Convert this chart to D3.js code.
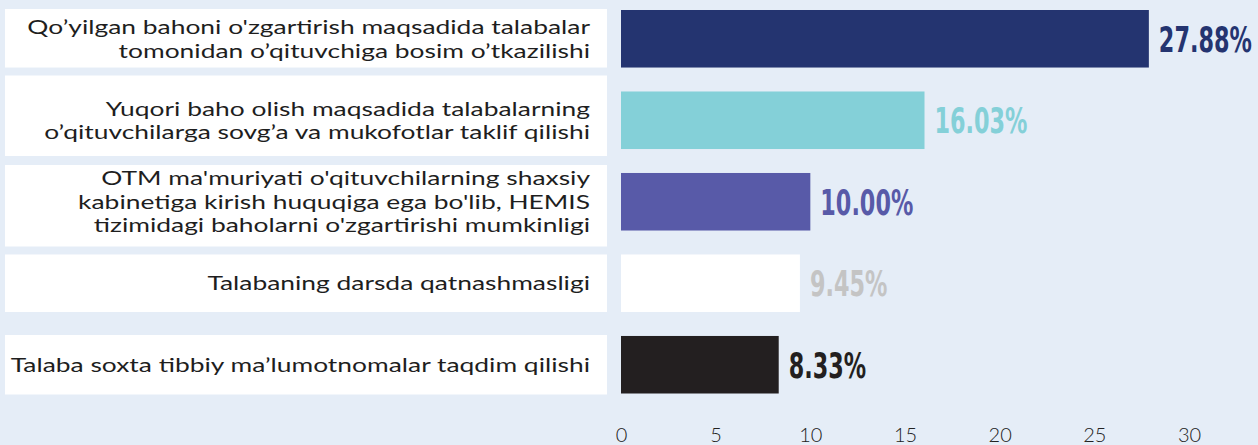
<!DOCTYPE html>
<html><head><meta charset="utf-8">
<script src="https://cdn.jsdelivr.net/npm/d3@7"></script>
<style>
html,body{margin:0;padding:0;background:#e5edf7;}
svg{display:block;}
</style></head>
<body>
<svg id="chart" width="1258" height="445"></svg>
<script>
// ---- data ----
const categories = [
  ["Qo\u2019yilgan bahoni o'zgartirish maqsadida talabalar", "tomonidan o\u2019qituvchiga bosim o\u2019tkazilishi"],
  ["Yuqori baho olish maqsadida talabalarning", "o\u2019qituvchilarga sovg\u2019a va mukofotlar taklif qilishi"],
  ["OTM ma'muriyati o'qituvchilarning shaxsiy", "kabinetiga kirish huquqiga ega bo'lib, HEMIS", "tizimidagi baholarni o'zgartirishi mumkinligi"],
  ["Talabaning darsda qatnashmasligi"],
  ["Talaba soxta tibbiy ma\u2019lumotnomalar taqdim qilishi"]
];
const values = [27.88, 16.03, 10.00, 9.45, 8.33];
const tickValues = [0, 5, 10, 15, 20, 25, 30];

// ---- styles ----
const barColors = ["#243470", "#84d0d8", "#585aa8", "#ffffff", "#231f20"];
const valueColors = ["#243470", "#84d0d8", "#585aa8", "#c4c4c4", "#231f20"];
const boxPad = [[1,0],[16,7],[8,16],[0,0],[1,1]]; // extra top/bottom of label boxes

const svg = d3.select("#chart");
const ids = categories.map((c,i)=>i);

const x = d3.scaleLinear().domain([0,30]).range([621,1189]);
const y = d3.scaleBand().domain(ids).range([10,393.5]).paddingInner(0.294).paddingOuter(0);

// label boxes
svg.append("g").selectAll("rect").data(ids).join("rect")
  .attr("x",5).attr("width",602)
  .attr("y",i=>y(i)-boxPad[i][0])
  .attr("height",i=>y.bandwidth()+boxPad[i][0]+boxPad[i][1])
  .attr("fill","#ffffff");

// label text
const lh = 23.5;
const lbl = svg.append("g");
ids.forEach(i=>{
  const lines = categories[i];
  const cy = y(i)+y.bandwidth()/2;
  lines.forEach((ln,k)=>{
    const by = cy + 7 + (k-(lines.length-1)/2)*lh;
    lbl.append("text")
      .attr("class","lab")
      .attr("transform",`translate(590,${by})`)
      .attr("text-anchor","end")
      .attr("font-family","Lato, 'Open Sans', sans-serif")
      .attr("font-size",19)
      .attr("fill","#1e1e1e")
      .text(ln);
  });
});
const refNode = lbl.select("text.lab").node();
const sx = 563 / refNode.getComputedTextLength();
lbl.selectAll("text.lab").attr("transform",function(){
  return d3.select(this).attr("transform")+` scale(${sx},1)`;
});

// bars
svg.append("g").selectAll("rect").data(ids).join("rect")
  .attr("x",x(0)).attr("y",i=>y(i))
  .attr("width",i=>x(values[i])-x(0))
  .attr("height",y.bandwidth())
  .attr("fill",i=>barColors[i]);

// value labels
const vl = svg.append("g").selectAll("text").data(ids).join("text")
  .attr("font-family","'Liberation Sans Narrow', 'DejaVu Sans Condensed', sans-serif")
  .attr("font-weight","bold")
  .attr("font-size",36)
  .attr("fill",i=>valueColors[i])
  .text(i=>values[i].toFixed(2)+"%");
const vnode = vl.nodes()[0];
const vsx = 93 / vnode.getComputedTextLength();
vl.attr("transform",i=>`translate(${x(values[i])+10},${y(i)+y.bandwidth()/2+13}) scale(${vsx},1)`);

// axis
const axis = svg.append("g").attr("transform","translate(0,424)")
  .call(d3.axisBottom(x).tickValues(tickValues).tickSize(0).tickPadding(0));
axis.select(".domain").remove();
axis.selectAll("text")
  .attr("font-family","Lato, 'Open Sans', sans-serif")
  .attr("font-weight",300)
  .attr("font-size",20)
  .attr("fill","#222")
  .attr("dy","0.9em");
</script>
</body></html>
